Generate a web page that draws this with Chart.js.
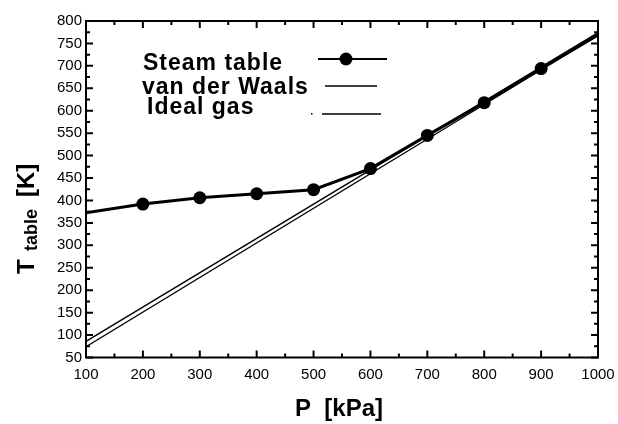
<!DOCTYPE html>
<html>
<head>
<meta charset="utf-8">
<script src="https://cdn.jsdelivr.net/npm/chart.js@4"></script>
<style>
  html, body { margin: 0; padding: 0; background: #fff; }
  #wrap { width: 618px; height: 424px; }
</style>
</head>
<body>
<div id="wrap"><canvas id="myChart" width="618" height="424"></canvas></div>
<script>
// values
const pressure = [100, 200, 300, 400, 500, 600, 700, 800, 900, 1000];      // kPa
const steamT   = [372.8, 392, 406, 415, 424, 471, 545, 618, 694, 769];     // K
const linePress = [100, 1000];
const vdwT      = [86, 774];
const idealT    = [74, 768];
const xTicks = [100, 200, 300, 400, 500, 600, 700, 800, 900, 1000];
const yTicks = [50, 100, 150, 200, 250, 300, 350, 400, 450, 500, 550, 600, 650, 700, 750, 800];

const toXY = (xs, ys) => xs.map((x, i) => ({x: x, y: ys[i]}));
// no marker on the end points of the steam table curve
const steamRadius = pressure.map((p, i) => (i === 0 || i === pressure.length - 1) ? 0 : 6.5);

// frame, inner ticks, legend and axis titles
const decor = {
  id: 'decor',
  afterDraw(chart) {
    const ctx = chart.ctx;
    const a = chart.chartArea;
    const xs = chart.scales.x, ys = chart.scales.y;
    ctx.save();
    ctx.strokeStyle = '#000';
    ctx.lineWidth = 2;
    ctx.strokeRect(a.left, a.top, a.right - a.left, a.bottom - a.top);

    ctx.lineWidth = 2;
    ctx.beginPath();
    for (let v = 100; v <= 1000; v += 50) {
      const px = xs.getPixelForValue(v);
      const len = v % 100 === 0 ? 7 : 4;
      ctx.moveTo(px, a.bottom); ctx.lineTo(px, a.bottom - len);
      ctx.moveTo(px, a.top); ctx.lineTo(px, a.top + len);
    }
    for (let v = 50; v <= 800; v += 25) {
      const py = ys.getPixelForValue(v);
      const len = v % 50 === 0 ? 7 : 4;
      ctx.moveTo(a.left, py); ctx.lineTo(a.left + len, py);
      ctx.moveTo(a.right, py); ctx.lineTo(a.right - len, py);
    }
    ctx.stroke();

    // legend
    ctx.fillStyle = '#000';
    ctx.font = 'bold 23px "Liberation Sans", Arial, sans-serif';
    ctx.letterSpacing = '1px';
    ctx.textBaseline = 'alphabetic';
    ctx.textAlign = 'left';
    ctx.fillText('Steam table', 143, 70);
    ctx.fillText('van der Waals', 142, 94);
    ctx.fillText('Ideal gas', 147, 114);

    ctx.lineWidth = 2;
    ctx.beginPath(); ctx.moveTo(318, 59); ctx.lineTo(387, 59); ctx.stroke();
    ctx.beginPath(); ctx.arc(346, 59, 6.5, 0, Math.PI * 2); ctx.fill();
    ctx.lineWidth = 1.3;
    ctx.beginPath(); ctx.moveTo(325, 86); ctx.lineTo(377, 86); ctx.stroke();
    ctx.beginPath(); ctx.moveTo(322, 114); ctx.lineTo(381, 114); ctx.stroke();
    ctx.fillRect(311, 113, 1.5, 1.5);

    // x title
    ctx.letterSpacing = '0px';
    ctx.textAlign = 'center';
    ctx.font = 'bold 24px "Liberation Sans", Arial, sans-serif';
    ctx.fillText('P  [kPa]', 339, 416);

    // y title with subscript
    ctx.translate(34, 274);
    ctx.rotate(-Math.PI / 2);
    ctx.textAlign = 'left';
    ctx.font = 'bold 24px "Liberation Sans", Arial, sans-serif';
    ctx.fillText('T', 0, 0);
    ctx.font = 'bold 18px "Liberation Sans", Arial, sans-serif';
    ctx.fillText('table', 23, 3);
    ctx.font = 'bold 24px "Liberation Sans", Arial, sans-serif';
    ctx.fillText('[K]', 77, 0);
    ctx.restore();
  }
};

const ctx = document.getElementById('myChart').getContext('2d');
const myChart = new Chart(ctx, {
  type: 'line',
  data: {
    datasets: [
      {
        label: 'Steam table',
        data: toXY(pressure, steamT),
        borderColor: '#000',
        backgroundColor: '#000',
        borderWidth: 3,
        pointRadius: steamRadius,
        pointBorderWidth: 0,
        pointBackgroundColor: '#000',
        tension: 0
      },
      {
        label: 'van der Waals',
        data: toXY(linePress, vdwT),
        borderColor: '#000',
        borderWidth: 1.3,
        pointRadius: 0
      },
      {
        label: 'Ideal gas',
        data: toXY(linePress, idealT),
        borderColor: '#000',
        borderWidth: 1.3,
        pointRadius: 0
      }
    ]
  },
  options: {
    responsive: false,
    animation: false,
    layout: { padding: { left: 0, top: 21, right: 20, bottom: 0 } },
    plugins: { legend: { display: false }, tooltip: { enabled: false } },
    scales: {
      x: {
        type: 'linear',
        min: 100, max: 1000,
        afterBuildTicks: s => { s.ticks = xTicks.map(v => ({value: v})); },
        afterFit: s => { s.height = 66.5; s.paddingLeft = 0; s.paddingRight = 0; },
        grid: { display: false, drawTicks: false },
        border: { display: false },
        ticks: { color: '#000', padding: 8, maxRotation: 0,
                 callback: v => String(v),
                 font: { family: '"Liberation Sans", Arial, sans-serif', size: 15 } }
      },
      y: {
        type: 'linear',
        min: 50, max: 800,
        afterBuildTicks: s => { s.ticks = yTicks.map(v => ({value: v})); },
        afterFit: s => { s.width = 86; s.paddingTop = 0; s.paddingBottom = 0; },
        grid: { display: false, drawTicks: false },
        border: { display: false },
        ticks: { color: '#000', padding: 4,
                 callback: v => String(v),
                 font: { family: '"Liberation Sans", Arial, sans-serif', size: 15 } }
      }
    }
  },
  plugins: [decor]
});
</script>
</body>
</html>
